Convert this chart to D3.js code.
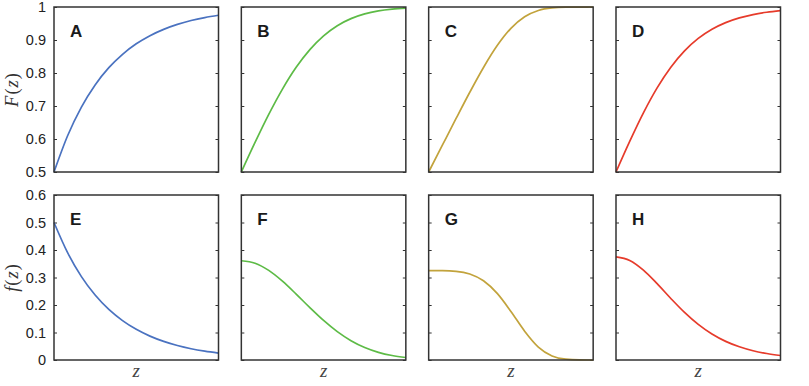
<!DOCTYPE html>
<html>
<head>
<meta charset="utf-8">
<script src="https://cdn.jsdelivr.net/npm/d3@7"></script>
<style>
  body { margin: 0; background: #fff; }
  svg { display: block; font-family: "Liberation Sans", Arial, Helvetica, sans-serif; }
  .tick text { font-size: 14.5px; fill: #222; }
  .tick line { stroke: #333; }
</style>
</head>
<body>
<svg id="chart"></svg>
<script>
const size = { width: 809, height: 386 };

const zValues = [0, 0.25, 0.5, 0.75, 1, 1.25, 1.5, 1.75, 2, 2.25, 2.5, 2.75, 3];

// top row, F(z)
const cdfA = [0.5, 0.6106, 0.6967, 0.7638, 0.8161, 0.8567, 0.8884, 0.9131, 0.9323, 0.9473, 0.959, 0.968, 0.9751];
const cdfB = [0.5, 0.5895, 0.6745, 0.7513, 0.8173, 0.871, 0.9127, 0.9434, 0.9648, 0.9791, 0.9882, 0.9936, 0.9967];
const cdfC = [0.5, 0.5812, 0.6622, 0.7416, 0.8167, 0.883, 0.9353, 0.9705, 0.9895, 0.9972, 0.9994, 0.9998, 1.0];
const cdfD = [0.5, 0.5927, 0.6792, 0.7549, 0.8176, 0.867, 0.9047, 0.9325, 0.9526, 0.9669, 0.977, 0.9841, 0.989];

// bottom row, f(z)
const pdfE = [0.5, 0.3894, 0.3033, 0.2362, 0.1839, 0.1433, 0.1116, 0.0869, 0.0677, 0.0527, 0.041, 0.032, 0.0249];
const pdfF = [0.361, 0.3519, 0.3259, 0.2867, 0.2397, 0.1904, 0.1437, 0.103, 0.0702, 0.0454, 0.0279, 0.0163, 0.0091];
const pdfG = [0.325, 0.3248, 0.3226, 0.3128, 0.2881, 0.2421, 0.1765, 0.1049, 0.0472, 0.0148, 0.0029, 0.0003, 0.0];
const pdfH = [0.375, 0.3621, 0.3268, 0.2775, 0.2237, 0.173, 0.1293, 0.0944, 0.0677, 0.048, 0.0337, 0.0235, 0.0163];

const topLetters = ["A", "B", "C", "D"];
const bottomLetters = ["E", "F", "G", "H"];
const colors = ["#4a72c0", "#5dbb46", "#c2a33c", "#e63b2b"];

const topTicks = [0.5, 0.6, 0.7, 0.8, 0.9, 1];
const bottomTicks = [0, 0.1, 0.2, 0.3, 0.4, 0.5, 0.6];

const rows = [
  { letters: topLetters, series: [cdfA, cdfB, cdfC, cdfD], domain: [0.5, 1], ticks: topTicks, top: 7, label: ["F", "z"] },
  { letters: bottomLetters, series: [pdfE, pdfF, pdfG, pdfH], domain: [0, 0.6], ticks: bottomTicks, top: 195, label: ["f", "z"] }
];

const panelW = 164.5;
const panelH = 165;
const colLeft = d3.scalePoint().domain([0, 1, 2, 3]).range([54, 616]);

const svg = d3.select("#chart").attr("width", size.width).attr("height", size.height);

rows.forEach((row) => {
  const y = d3
    .scaleLinear()
    .domain(row.domain)
    .range([row.top + panelH, row.top]);

  row.series.forEach((vals, i) => {
    const left = colLeft(i);
    const x = d3.scaleLinear().domain([0, 3]).range([left, left + panelW]);

    svg
      .append("g")
      .attr("transform", `translate(${left},0)`)
      .call(
        d3.axisLeft(y).tickValues(row.ticks).tickSize(-3).tickPadding(8)
          .tickFormat(i === 0 ? d3.format("") : () => "")
      )
      .call((g) => g.select(".domain").remove());

    svg
      .append("g")
      .attr("transform", `translate(${left + panelW},0)`)
      .call(d3.axisRight(y).tickValues(row.ticks).tickSize(-3).tickFormat(() => ""))
      .call((g) => g.select(".domain").remove());

    const line = d3
      .line()
      .curve(d3.curveMonotoneX)
      .x((d, j) => x(zValues[j]))
      .y((d) => y(d));

    svg
      .append("path")
      .datum(vals)
      .attr("fill", "none")
      .attr("stroke", colors[i])
      .attr("stroke-width", 1.7)
      .attr("d", line);

    svg
      .append("rect")
      .attr("x", left)
      .attr("y", row.top)
      .attr("width", panelW)
      .attr("height", panelH)
      .attr("fill", "none")
      .attr("stroke", "#333")
      .attr("stroke-width", 1.5);

    svg
      .append("text")
      .attr("x", left + 16)
      .attr("y", row.top + 30)
      .attr("font-size", "17px")
      .attr("font-weight", "bold")
      .attr("fill", "#1a1a1a")
      .text(row.letters[i]);
  });

  // y label, rotated
  const lab = svg
    .append("text")
    .attr("transform", `translate(18,${row.top + panelH / 2}) rotate(-90)`)
    .attr("text-anchor", "middle")
    .attr("font-family", "'Liberation Serif', 'Times New Roman', serif")
    .attr("font-size", "18.5px")
    .attr("letter-spacing", "1px")
    .attr("fill", "#333");
  lab.append("tspan").attr("font-style", "italic").text(row.label[0]);
  lab.append("tspan").text("(");
  lab.append("tspan").attr("font-style", "italic").text(row.label[1]);
  lab.append("tspan").text(")");
});

// z labels under each column
[0, 1, 2, 3].forEach((i) => {
  svg
    .append("text")
    .attr("x", colLeft(i) + panelW / 2)
    .attr("y", 377)
    .attr("text-anchor", "middle")
    .attr("font-family", "'Liberation Serif', 'Times New Roman', serif")
    .attr("font-style", "italic")
    .attr("font-size", "19px")
    .attr("fill", "#444")
    .text("z");
});
</script>
</body>
</html>
